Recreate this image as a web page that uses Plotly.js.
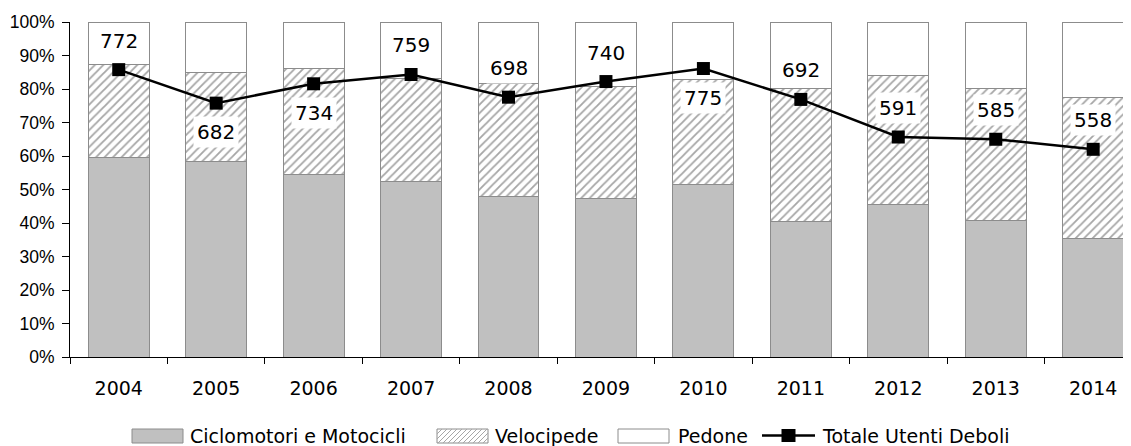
<!DOCTYPE html>
<html>
<head>
<meta charset="utf-8">
<script src="https://cdn.plot.ly/plotly-3.0.1.min.js"></script>
<style>html,body{margin:0;padding:0;background:#fff;}#chart{width:1131px;height:446px;}</style>
</head>
<body>
<div id="chart"></div>
<script>
// ---- data ----
const years = ["2004","2005","2006","2007","2008","2009","2010","2011","2012","2013","2014"];
const ciclomotori = [59.6, 58.5, 54.5, 52.3, 48.0, 47.3, 51.6, 40.5, 45.4, 40.6, 35.3];
const velocipede  = [27.8, 26.5, 31.5, 30.9, 33.7, 33.4, 31.3, 39.6, 38.5, 39.5, 42.3];
const pedone      = [12.6, 15.0, 14.0, 16.8, 18.3, 19.3, 17.1, 19.9, 16.1, 19.9, 22.4];
const totale      = [772, 682, 734, 759, 698, 740, 775, 692, 591, 585, 558];
const seriesNames = ["Ciclomotori e Motocicli", "Velocipede", "Pedone", "Totale Utenti Deboli"];

// label placement (style, not data): +1 above the marker, -1 below
const labelSide = [1, -1, -1, 1, 1, 1, -1, 1, 1, 1, 1];

// ---- layout geometry ----
const W = 1131, H = 446;
const M = {l: 70, r: 8, t: 22, b: 89};
const PW = W - M.l - M.r, PH = H - M.t - M.b;
const px = x => (x - M.l) / PW;
const py = y => (H - M.b - y) / PH;

const FONT = "DejaVu Sans, Verdana, sans-serif";
const GRAY = "#c0c0c0", EDGE = "#8c8c8c";

const traces = [
  {type: "bar", x: years, y: ciclomotori, name: seriesNames[0],
   marker: {color: GRAY, line: {color: EDGE, width: 1}}, showlegend: false},
  {type: "bar", x: years, y: velocipede, name: seriesNames[1],
   marker: {color: "#ffffff", line: {color: EDGE, width: 1},
            pattern: {shape: "/", fgcolor: "#a6a6a6", bgcolor: "#ffffff", size: 6, solidity: 0.3}},
   showlegend: false},
  {type: "bar", x: years, y: pedone, name: seriesNames[2],
   marker: {color: "#ffffff", line: {color: EDGE, width: 1}}, showlegend: false},
  {type: "scatter", mode: "lines+markers", x: years, y: totale, yaxis: "y2", name: seriesNames[3],
   line: {color: "#000", width: 2.5}, marker: {symbol: "square", size: 13, color: "#000"},
   showlegend: false}
];

// value labels: x given as the category index (numeric-looking category names
// would otherwise be read as positions)
const annotations = totale.map((v, i) => ({
  x: i, y: v, xref: "x", yref: "y2", text: String(v), showarrow: false,
  yshift: labelSide[i] * 29, bgcolor: "#ffffff", borderpad: 3,
  font: {family: FONT, size: 20, color: "#000"}
}));

// ---- custom legend ----
const shapes = [];
const legY0 = 429, legY1 = 443, legYc = 435.5;
const boxes = [[132, 183], [437, 488], [618, 669]];
const texts = [188, 493, 676, 820];
const lineSym = [762, 815];
shapes.push({type: "rect", xref: "paper", yref: "paper", x0: px(boxes[0][0]), x1: px(boxes[0][1]),
  y0: py(legY1), y1: py(legY0), fillcolor: GRAY, line: {color: EDGE, width: 1}});
shapes.push({type: "rect", xref: "paper", yref: "paper", x0: px(boxes[1][0]), x1: px(boxes[1][1]),
  y0: py(legY1), y1: py(legY0), fillcolor: "#fff", line: {color: EDGE, width: 1}});
(function () {
  const [bx0, bx1] = boxes[1];
  const h = legY1 - legY0;
  let d = "";
  for (let s = bx0 - h; s < bx1; s += 5) {
    let xa = s, ya = legY1, xb = s + h, yb = legY0;
    if (xa < bx0) { ya = legY1 - (bx0 - xa); xa = bx0; }
    if (xb > bx1) { yb = legY0 + (xb - bx1); xb = bx1; }
    if (xb <= xa) continue;
    d += `M${px(xa)},${py(ya)}L${px(xb)},${py(yb)}`;
  }
  shapes.push({type: "path", xref: "paper", yref: "paper", path: d, line: {color: "#a6a6a6", width: 1}});
})();
shapes.push({type: "rect", xref: "paper", yref: "paper", x0: px(boxes[2][0]), x1: px(boxes[2][1]),
  y0: py(legY1), y1: py(legY0), fillcolor: "#fff", line: {color: EDGE, width: 1}});
shapes.push({type: "line", xref: "paper", yref: "paper", x0: px(lineSym[0]), x1: px(lineSym[1]),
  y0: py(legYc), y1: py(legYc), line: {color: "#000", width: 2.5}});
const mc = (lineSym[0] + lineSym[1]) / 2;
shapes.push({type: "rect", xref: "paper", yref: "paper", x0: px(mc - 7), x1: px(mc + 7),
  y0: py(legYc + 6.5), y1: py(legYc - 6.5), fillcolor: "#000", line: {color: "#000", width: 0}});

seriesNames.forEach((n, i) => annotations.push({
  xref: "paper", yref: "paper", x: px(texts[i]), y: py(legYc), xanchor: "left", yanchor: "middle",
  text: n, showarrow: false, font: {family: FONT, size: 19, color: "#000"}
}));

const layout = {
  width: W, height: H, margin: M, paper_bgcolor: "#fff", plot_bgcolor: "#fff",
  barmode: "stack", bargap: 0.375, showlegend: false,
  xaxis: {type: "category", range: [-0.5, 10.306], tickson: "boundaries", ticks: "outside", ticklen: 6,
    tickcolor: "#000", showline: true, linecolor: "#000", linewidth: 1, showgrid: false, zeroline: false,
    ticklabelstandoff: 14,
    tickfont: {family: FONT, size: 19, color: "#000"}, fixedrange: true},
  yaxis: {range: [0, 100], dtick: 10, ticksuffix: "%", ticks: "outside", ticklen: 7, tickcolor: "#000",
    showline: true, linecolor: "#000", linewidth: 1, showgrid: false, zeroline: false,
    ticklabelstandoff: 4,
    tickfont: {family: "Liberation Sans, Arial, sans-serif", size: 17.5, color: "#000"}},
  yaxis2: {overlaying: "y", side: "right", range: [0, 900], showticklabels: false, ticks: "",
    showline: false, showgrid: false, zeroline: false},
  annotations: annotations, shapes: shapes
};

Plotly.newPlot("chart", traces, layout, {displayModeBar: false, staticPlot: true});
</script>
</body>
</html>
